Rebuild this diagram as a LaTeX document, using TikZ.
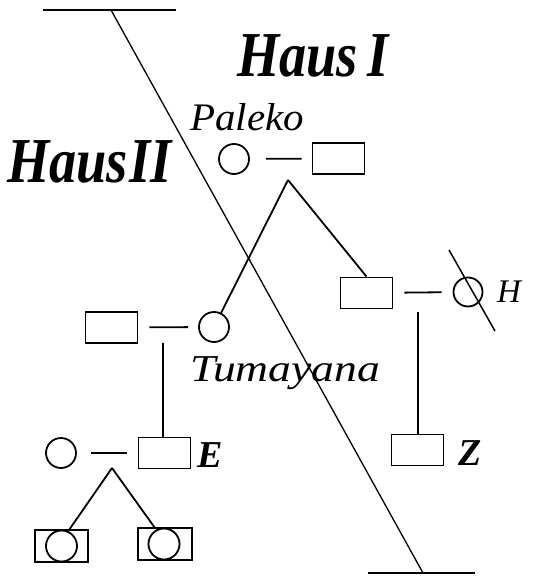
\documentclass[tikz,border=0pt]{standalone}
\usepackage{fontspec}
\usepackage{graphicx}
\setmainfont{Liberation Serif}
\tikzset{
  ln/.style={line width=1.8pt},
  male/.style={draw,line width=1.8pt,rectangle,minimum width=52pt,minimum height=31pt,inner sep=0pt},
  female/.style={draw,line width=1.8pt,circle,minimum size=30pt,inner sep=0pt},
  lab/.style={inner sep=0pt,anchor=base west},
  haus/.style={lab,font=\bfseries\itshape\fontsize{64}{64}\selectfont},
  pname/.style={lab,font=\itshape\fontsize{39}{39}\selectfont},
  pletter/.style={lab,font=\bfseries\itshape\fontsize{38}{38}\selectfont}}
\begin{document}
\begin{tikzpicture}[x=1pt,y=-1pt]
\useasboundingbox (0,0) rectangle (548,578);
% dividing line
\coordinate (tl) at (43,10); \coordinate (tr) at (176,10);
\coordinate (dt) at (111,10); \coordinate (db) at (423,573);
\coordinate (bl) at (368,573); \coordinate (br) at (475,573);
\draw[line width=1.8pt] (tl) -- (tr);
\draw[line width=1.8pt] (bl) -- (br);
\draw[line width=1.3pt] (dt) -- (db);
% labels
\node[haus] (h1) at (237,77) {\scalebox{0.85}[1]{Haus\,I}};
\node[haus] (h2) at (7,182) {\scalebox{0.85}[1]{Haus\kern2pt II}};
\node[pname] (pal) at (190,130) {\scalebox{1.05}[1]{Paleko}};
\node[pname,font=\itshape\fontsize{38}{38}\selectfont] (tum) at (190,381) {\scalebox{1.2}[1]{Tumayana}};
% Paleko couple
\node[female] (pc) at (234,159) {};
\node[male] (pr) at (338.5,158.5) {};
\draw[ln,shorten <=16pt,shorten >=10pt] (pc) -- (pr);
\coordinate (pk) at (288,180);
% left couple
\node[male] (lr) at (111.5,327.5) {};
\node[female] (tc) at (214,327) {};
\draw[ln,shorten <=11pt,shorten >=10pt] (lr) -- (tc);
\coordinate (lk) at (163,343);
% right couple
\node[male] (hr) at (366.5,293) {};
\node[female,minimum size=29pt] (hc) at (468,292) {};
\draw[ln,shorten <=11pt,shorten >=11pt] (hr) -- (hc);
\coordinate (s1) at (449,250); \coordinate (s2) at (495,331);
\draw[line width=1.5pt] (s1) -- (s2);
\node[lab,font=\itshape\fontsize{33}{33}\selectfont] (hl) at (497,302) {H};
\coordinate (rk) at (418,312);
% descent lines
\draw[ln] (pk) -- (tc);
\draw[ln] (pk) -- (hr.north);
% E couple
\node[female] (bc) at (61,453) {};
\node[male] (er) at (164.5,453) {};
\draw[ln,shorten <=14pt,shorten >=11pt] (bc) -- (er);
\node[pletter] (el) at (197,467) {E};
\draw[ln] (lk) -- (lk |- er.north);
% Z
\node[male] (zr) at (417.5,450) {};
\node[pletter] (zl) at (458,465) {Z};
\draw[ln] (rk) -- (rk |- zr.north);
% children of E
\coordinate (bk) at (112,468);
\coordinate (k1) at (69,530);
\coordinate (k2) at (155,528);
\node[male,minimum width=53pt,minimum height=32pt] (c1) at (61.5,546) {};
\node[female,minimum size=31pt] (c1c) at (61.5,546) {};
\node[male,minimum width=54pt,minimum height=32pt] (c2) at (165,544) {};
\node[female,minimum size=31pt] (c2c) at (164,544) {};
\draw[ln] (bk) -- (k1);
\draw[ln] (bk) -- (k2);
\end{tikzpicture}
\end{document}
